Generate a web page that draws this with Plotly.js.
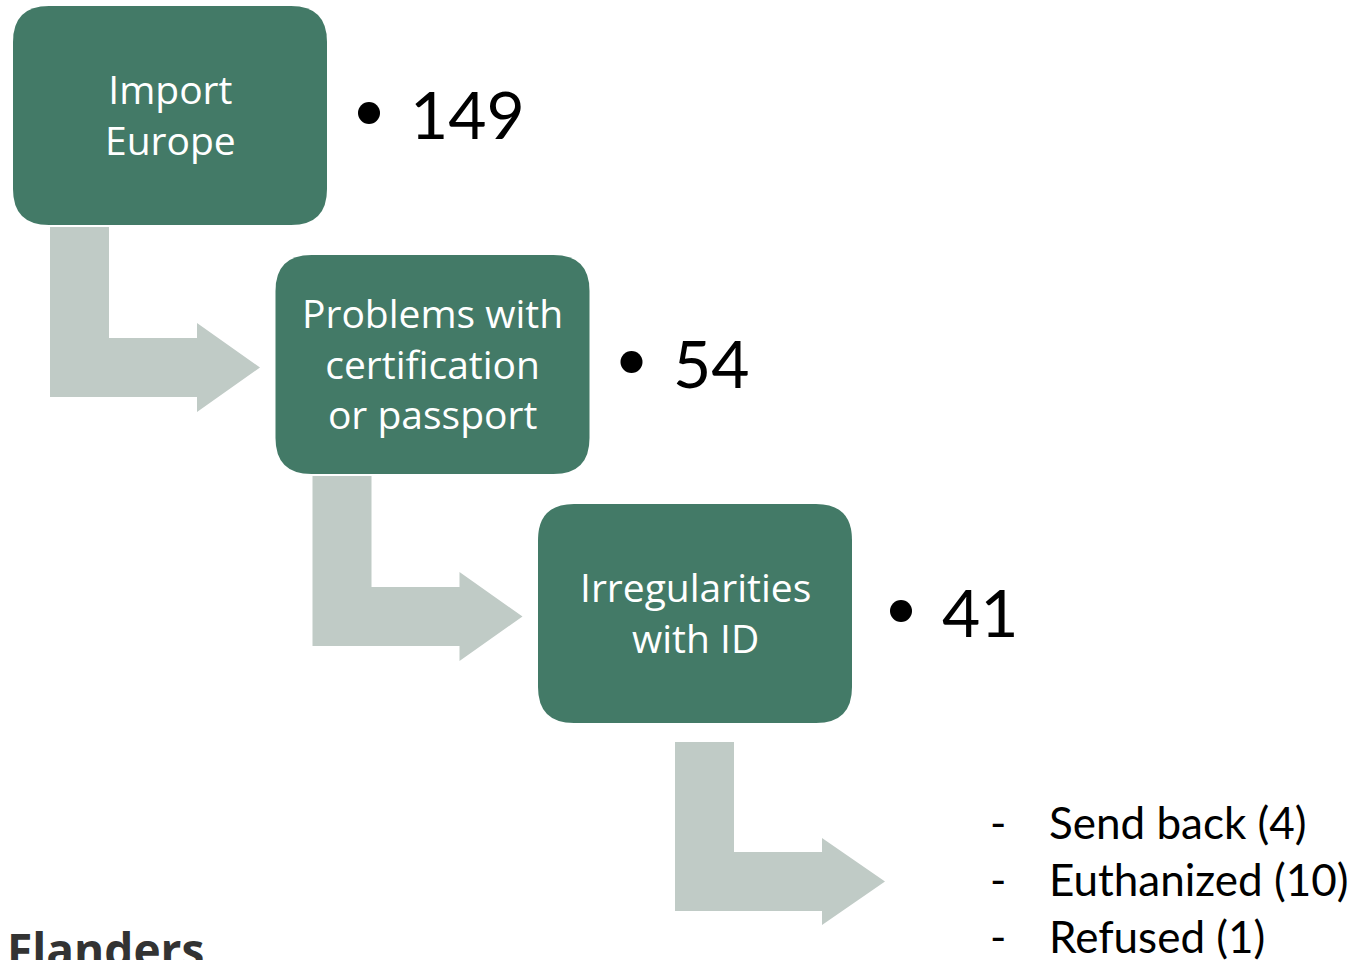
<!DOCTYPE html>
<html>
<head>
<meta charset="utf-8">
<script src="https://cdn.plot.ly/plotly-3.0.1.min.js"></script>
<style>html,body{margin:0;padding:0;background:#fff;}#chart{width:1359px;height:960px;}</style>
</head>
<body>
<div id="chart"></div>
<script>
// ---- data ----
const steps = ["Import<br>Europe", "Problems with<br>certification<br>or passport", "Irregularities<br>with ID"];
const counts = [149, 54, 41];
const outcomes = ["Send back", "Euthanized", "Refused"];
const outcomeCounts = [4, 10, 1];
const footer = "Flanders";

// ---- styling / layout (pixel space) ----
const W = 1359, H = 960;
const boxColor = "#437A67";
const arrowColor = "#C0CBC6";
const stepDX = 262.5, stepDY = 249;
const box0 = {x0: 13, y0: 6, w: 314, h: 219, r: 36};

function roundRect(x0, y0, w, h, r) {
  const x1 = x0 + w, y1 = y0 + h;
  return `M${x0+r},${y0} L${x1-r},${y0} Q${x1},${y0} ${x1},${y0+r} L${x1},${y1-r} Q${x1},${y1} ${x1-r},${y1} L${x0+r},${y1} Q${x0},${y1} ${x0},${y1-r} L${x0},${y0+r} Q${x0},${y0} ${x0+r},${y0} Z`;
}
function bentArrow(vx, top, barTop, headBase, headTop, tip) {
  const bw = 59, bh = 59;
  const barBot = barTop + bh;
  const mid = barTop + bh / 2;
  const headBot = mid + (mid - headTop);
  return `M${vx},${top} L${vx+bw},${top} L${vx+bw},${barTop} L${headBase},${barTop} L${headBase},${headTop} L${tip},${mid} L${headBase},${headBot} L${headBase},${barBot} L${vx},${barBot} Z`;
}

const shapes = [];
const annotations = [];

steps.forEach((label, i) => {
  const bx = box0.x0 + stepDX * i, by = box0.y0 + stepDY * i;
  shapes.push({type: "path", xref: "x", yref: "y", path: roundRect(bx, by, box0.w, box0.h, box0.r),
    fillcolor: boxColor, line: {width: 0}});
  annotations.push({x: bx + box0.w / 2, y: by + box0.h / 2 - 2, xref: "x", yref: "y", text: label,
    showarrow: false, xanchor: "center", yanchor: "middle", align: "center",
    font: {family: "Open Sans", size: 39, color: "#ffffff"}});
  // bullet + count
  const dotX = 369 + stepDX * i + (i === 2 ? 7 : 0);
  const cy = 113 + stepDY * i;
  shapes.push({type: "circle", xref: "x", yref: "y", x0: dotX - 11, x1: dotX + 11, y0: cy - 11, y1: cy + 11,
    fillcolor: "#000000", line: {width: 0}});
  annotations.push({x: dotX + 39, y: cy, xref: "x", yref: "y", text: String(counts[i]),
    showarrow: false, xanchor: "left", yanchor: "middle",
    font: {family: "Lato", size: 66, color: "#000000"}});
});

// arrows
const arrowSpecs = [
  {vx: 50, top: 227, barTop: 338, headBase: 197, headTop: 323, tip: 260},
  {vx: 50 + stepDX, top: 227 + stepDY, barTop: 338 + stepDY, headBase: 197 + stepDX, headTop: 323 + stepDY, tip: 260 + stepDX},
  {vx: 675, top: 742, barTop: 852, headBase: 822, headTop: 838, tip: 885}
];
arrowSpecs.forEach(a => {
  shapes.push({type: "path", xref: "x", yref: "y", path: bentArrow(a.vx, a.top, a.barTop, a.headBase, a.headTop, a.tip),
    fillcolor: arrowColor, line: {width: 0}, layer: "below"});
});

// outcomes list
outcomes.forEach((o, i) => {
  const y = 822 + 57 * i;
  annotations.push({x: 988, y: y, xref: "x", yref: "y", text: "-", showarrow: false,
    xanchor: "left", yanchor: "middle", font: {family: "Lato", size: 44, color: "#000000"}});
  annotations.push({x: 1047, y: y, xref: "x", yref: "y", text: `${o} (${outcomeCounts[i]})`, showarrow: false,
    xanchor: "left", yanchor: "middle", font: {family: "Lato", size: 44, color: "#000000"}});
});

annotations.push({x: 5, y: 916, xref: "x", yref: "y", text: "<b>" + footer + "</b>", showarrow: false,
  xanchor: "left", yanchor: "top", font: {family: "Open Sans", size: 46, color: "#333333"}});

const layout = {
  width: W, height: H,
  margin: {l: 0, r: 0, t: 0, b: 0, pad: 0},
  paper_bgcolor: "#ffffff", plot_bgcolor: "#ffffff",
  xaxis: {range: [0, W], visible: false, fixedrange: true},
  yaxis: {range: [H, 0], visible: false, fixedrange: true},
  showlegend: false,
  shapes: shapes,
  annotations: annotations
};

Plotly.newPlot("chart", [], layout, {displayModeBar: false, staticPlot: true});
</script>
</body>
</html>
